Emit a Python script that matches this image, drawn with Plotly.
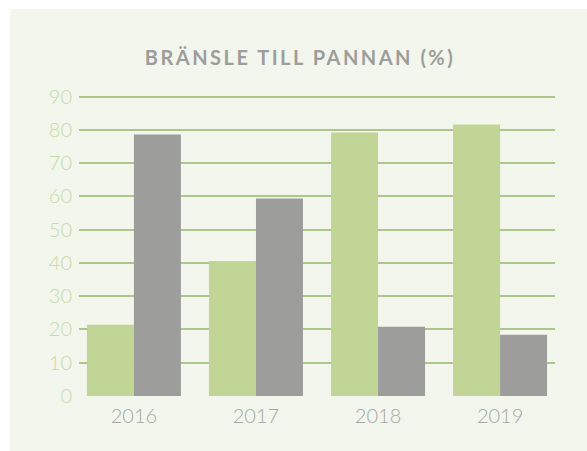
import plotly.graph_objects as go

years = ["2016", "2017", "2018", "2019"]
green_values = [21.4, 40.6, 79.2, 81.6]
gray_values = [78.6, 59.4, 20.8, 18.4]
y_ticks = [0, 10, 20, 30, 40, 50, 60, 70, 80, 90]
title_text = "BRÄNSLE TILL PANNAN (%)"

W, H = 587, 451
L, R, T, B = 79, 32, 95, 55
pw, ph = W - L - R, H - T - B

fig = go.Figure()
fig.add_bar(x=years, y=green_values, marker=dict(color="#c1d696", line=dict(width=0)), showlegend=False)
fig.add_bar(x=years, y=gray_values, marker=dict(color="#9d9d9c", line=dict(width=0)), showlegend=False)

# background panel
fig.add_shape(type="rect", xref="paper", yref="paper", layer="below",
              x0=(10 - L) / pw, x1=(W + 5 - L) / pw,
              y0=-(B + 5) / ph, y1=1 + (T - 9) / ph,
              fillcolor="#f3f6ec", line=dict(width=0))

fig.update_layout(
    width=W, height=H,
    margin=dict(l=L, r=R, t=T, b=B, pad=0),
    paper_bgcolor="white", plot_bgcolor="rgba(0,0,0,0)",
    barmode="group", bargap=0.23, bargroupgap=0,
    title=dict(text=title_text, x=(300 - L) / pw, xref="paper", xanchor="center",
               y=1 - 57.5 / H, yref="container", yanchor="middle",
               font=dict(family="Lato", size=20, color="#9d9d9c", weight="bold")),
    xaxis=dict(range=[-0.45, 3.45], showgrid=False, zeroline=False, showline=False, ticks="",
               ticklabelstandoff=6,
               tickfont=dict(family="Lato", size=20, color="#a6a6a6", weight=300)),
    yaxis=dict(range=[0, 90.5], tickvals=y_ticks, showgrid=True, gridcolor="#adc68c", gridwidth=1.5,
               zeroline=False, showline=False, ticks="", ticklabelstandoff=6,
               tickfont=dict(family="Lato", size=20, color="#c6dba6", weight=300)),
)

post = """
document.body.style.margin='0';
document.body.style.overflow='hidden';
document.querySelectorAll('.gtitle').forEach(function(e){e.style.letterSpacing='2.5px';});
"""
fig.write_html("out.html", post_script=post, config={"displayModeBar": False})
